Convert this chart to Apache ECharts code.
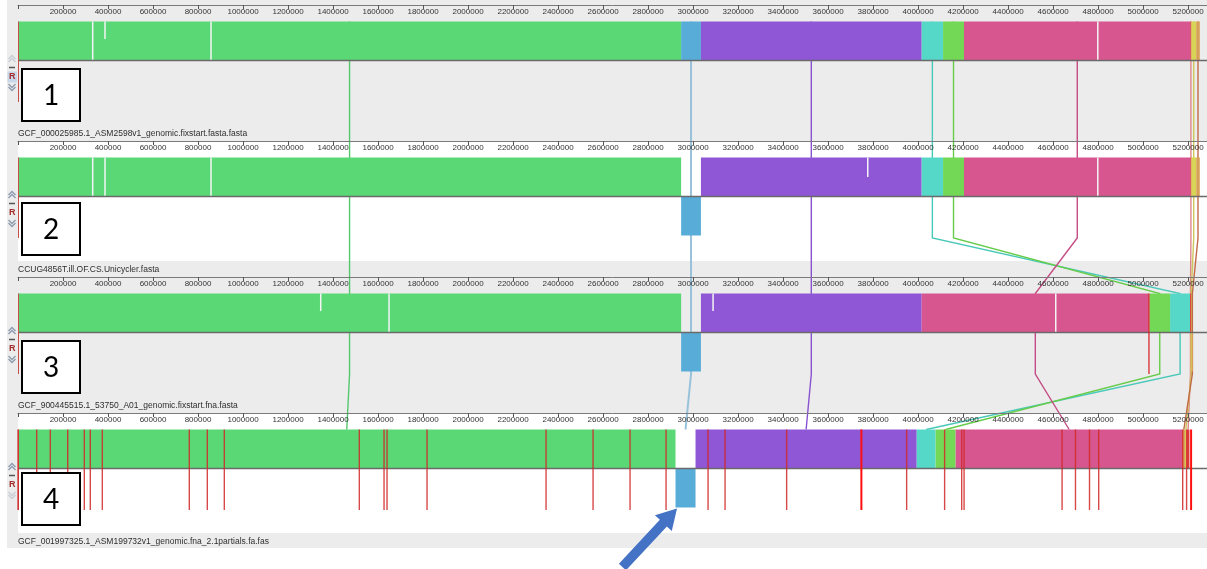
<!DOCTYPE html>
<html>
<head>
<meta charset="utf-8">
<script src="https://cdn.jsdelivr.net/npm/echarts/dist/echarts.min.js"></script>
<style>
  html, body { margin: 0; padding: 0; background: #ffffff; }
  #chart { width: 1207px; height: 569px; }
</style>
</head>
<body>
<div id="chart"></div>
<script>
// ---- genomes shown as stacked tracks ----
const genomeNames = [
  'GCF_000025985.1_ASM2598v1_genomic.fixstart.fasta.fasta',
  'CCUG4856T.ill.OF.CS.Unicycler.fasta',
  'GCF_900445515.1_53750_A01_genomic.fixstart.fna.fasta',
  'GCF_001997325.1_ASM199732v1_genomic.fna_2.1partials.fa.fas'
];
const panelNumbers = ['1', '2', '3', '4'];

// ---- locally collinear blocks (same order in every genome array) ----
const lcbNames  = ['green', 'blue', 'purple', 'cyan', 'lime', 'pink', 'red', 'yellow', 'orange'];
const lcbColors = ['#5ad876', '#57add8', '#8f56d6', '#56d8c8', '#73d856', '#d8568f', '#e03a3a', '#d8d456', '#d8a056'];
const lcbLineColors = ['#55c86e', '#98c2da', '#8a52d0', '#48c8b8', '#66cc4a', '#c44c84', '#e08888', '#cec65a', '#c06a48'];

const g1Start  = [0, 2947000, 3035000, 4016000, 4111000, 4204000, 5211000, 5214000, 5236000];
const g1End    = [2947000, 3035000, 4016000, 4111000, 4204000, 5211000, 5214000, 5236000, 5252000];
const g1Strand = [1, 1, 1, 1, 1, 1, 1, 1, 1];

const g2Start  = [0, 2947000, 3035000, 4016000, 4111000, 4204000, 5211000, 5214000, 5236000];
const g2End    = [2947000, 3035000, 4016000, 4111000, 4204000, 5211000, 5214000, 5236000, 5252000];
const g2Strand = [1, -1, 1, 1, 1, 1, 1, 1, 1];

const g3Start  = [0, 2947000, 3035000, 5120000, 5028000, 4016000, 5209000, 5212000, 5216000];
const g3End    = [2947000, 3035000, 4016000, 5209000, 5120000, 5026000, 5212000, 5216000, 5222000];
const g3Strand = [1, -1, 1, 1, 1, 1, 1, -1, -1];

const g4Start  = [0, 2922000, 3011000, 3994000, 4078000, 4167000, 5194000, 5186000, 5176000];
const g4End    = [2922000, 3011000, 3994000, 4078000, 4167000, 5176000, 5206000, 5194000, 5186000];
const g4Strand = [1, -1, 1, 1, 1, 1, 1, 1, 1];

// ---- similarity dips inside blocks: position (bp) and depth (share of block height) ----
const g1GapPos = [332000, 386700, 857800, 4798700];
const g1GapDepth = [1, 0.45, 1, 1];
const g2GapPos = [332000, 386700, 857800, 3776400, 4798700];
const g2GapDepth = [1, 1, 1, 0.5, 1];
const g3GapPos = [1345300, 1648900, 3088900, 4611900];
const g3GapDepth = [0.45, 1, 0.45, 1];
const g4GapPos = [];
const g4GapDepth = [];

// ---- contig boundaries (bp) ----
const g3Contigs = [5026000];
const g4Contigs = [0, 83100, 143600, 220900, 294700, 321300, 374700, 761300, 841300, 916900,
  1516900, 1626700, 1640000, 1817800, 2346700, 2555600, 2720000, 2880000, 3066700, 3142200,
  3416000, 3949300, 4118000, 4193800, 4204400, 4640000, 4699500, 4761800, 4802700, 5176000, 5193300];
const g4ContigsStrong = [3748000, 5213300];

// ---- ruler ----
const tickStep = 200000;
const axisMax = 5284000;

// ---- layout ----
const PANEL_TOP = [5, 141, 277, 413];
const BOX_TOP = [69, 203, 341, 473];
const BLOCK_H = 39;
const TRACK_TOP = 55.5;   // ruler line sits this far above the centre line
const TRACK_BOTTOM = -42;

const genomes = [
  { start: g1Start, end: g1End, strand: g1Strand, gapPos: g1GapPos, gapDepth: g1GapDepth },
  { start: g2Start, end: g2End, strand: g2Strand, gapPos: g2GapPos, gapDepth: g2GapDepth },
  { start: g3Start, end: g3End, strand: g3Strand, gapPos: g3GapPos, gapDepth: g3GapDepth },
  { start: g4Start, end: g4End, strand: g4Strand, gapPos: g4GapPos, gapDepth: g4GapDepth }
];
const midOf = (gi, k) => (genomes[gi].start[k] + genomes[gi].end[k]) / 2;

const chart = echarts.init(document.getElementById('chart'), null, { renderer: 'canvas' });

const grids = PANEL_TOP.map(o => ({ left: 18, right: 0, top: o, height: TRACK_TOP - TRACK_BOTTOM }));
grids.push({ left: 18, right: 0, top: 0, height: 569 });

const xAxes = PANEL_TOP.map((o, i) => ({
  type: 'value', gridIndex: i, position: 'top', min: 0, max: axisMax, interval: tickStep, z: 6,
  axisLine: { show: true, onZero: false, lineStyle: { color: '#7a7a7a', width: 1 } },
  axisTick: { show: true, inside: true, length: 4, lineStyle: { color: '#555' } },
  axisLabel: {
    inside: true, margin: 3, fontSize: 8, color: '#333', fontFamily: 'Liberation Sans',
    formatter: v => (v === 0 ? '' : String(v))
  },
  splitLine: { show: false }
}));
xAxes.push({ type: 'value', gridIndex: 4, min: 0, max: axisMax, show: false });

const yAxes = PANEL_TOP.map((o, i) => ({ type: 'value', gridIndex: i, min: TRACK_BOTTOM, max: TRACK_TOP, show: false }));
yAxes.push({ type: 'value', gridIndex: 4, min: 0, max: 569, inverse: true, show: false });

const series = [];

// connection lines between the same block in successive genomes
series.push({
  type: 'custom', xAxisIndex: 4, yAxisIndex: 4, z: 3, silent: true,
  data: lcbNames.map((n, k) => [k]),
  renderItem(params, api) {
    const k = api.value(0);
    const pts = [];
    for (let gi = 0; gi < 4; gi++) {
      const o = PANEL_TOP[gi];
      pts.push(api.coord([midOf(gi, k), o + TRACK_TOP - BLOCK_H]));
      if (gi < 3) pts.push(api.coord([midOf(gi, k), o + TRACK_TOP + 41.5]));
    }
    return {
      type: 'polyline', shape: { points: pts },
      style: { stroke: lcbLineColors[k], lineWidth: k === 1 ? 2 : 1.4, fill: null }
    };
  }
});

genomes.forEach((g, gi) => {
  // blocks
  series.push({
    type: 'custom', xAxisIndex: gi, yAxisIndex: gi, z: 4, silent: true,
    data: g.start.map((s, k) => [s, g.end[k], g.strand[k], k]),
    renderItem(params, api) {
      const s = api.value(0), e = api.value(1), st = api.value(2), k = api.value(3);
      const a = api.coord([s, st > 0 ? BLOCK_H : 0]);
      const b = api.coord([e, st > 0 ? 0 : -BLOCK_H]);
      return {
        type: 'rect',
        shape: { x: a[0], y: a[1], width: Math.max(b[0] - a[0], 1), height: b[1] - a[1] },
        style: { fill: lcbColors[k] }
      };
    }
  });
  // similarity dips
  series.push({
    type: 'custom', xAxisIndex: gi, yAxisIndex: gi, z: 5, silent: true,
    data: g.gapPos.map((p, j) => [p, g.gapDepth[j]]),
    renderItem(params, api) {
      const a = api.coord([api.value(0), BLOCK_H]);
      const b = api.coord([api.value(0), BLOCK_H - api.value(1) * BLOCK_H]);
      return { type: 'rect', shape: { x: a[0] - 0.75, y: a[1], width: 1.5, height: b[1] - a[1] }, style: { fill: '#f4f4f4' } };
    }
  });
  // centre line and reference marker
  series.push({
    type: 'custom', xAxisIndex: gi, yAxisIndex: gi, z: 6, silent: true,
    data: [[0]],
    renderItem(params, api) {
      const cs = params.coordSys;
      const c = api.coord([0, 0]);
      const t = api.coord([0, BLOCK_H]);
      const b = api.coord([0, TRACK_BOTTOM + 0.5]);
      return {
        type: 'group', children: [
          { type: 'line', shape: { x1: cs.x, y1: c[1], x2: cs.x + cs.width, y2: c[1] }, style: { stroke: '#6a6a6a', lineWidth: 1.5 } },
          { type: 'line', shape: { x1: t[0] + 0.5, y1: t[1], x2: b[0] + 0.5, y2: b[1] }, style: { stroke: '#c8504a', lineWidth: 1 } }
        ]
      };
    }
  });
});

// contig boundaries
function contigSeries(gi, list, color, width) {
  return {
    type: 'custom', xAxisIndex: gi, yAxisIndex: gi, z: 7, silent: true,
    data: list.map(p => [p]),
    renderItem(params, api) {
      const a = api.coord([api.value(0), BLOCK_H]);
      const b = api.coord([api.value(0), TRACK_BOTTOM + 0.5]);
      return { type: 'line', shape: { x1: a[0], y1: a[1], x2: b[0], y2: b[1] }, style: { stroke: color, lineWidth: width } };
    }
  };
}
series.push(contigSeries(2, g3Contigs, 'rgba(215,40,40,0.9)', 1.4));
series.push(contigSeries(3, g4Contigs, 'rgba(210,40,40,0.85)', 1.4));
series.push(contigSeries(3, g4ContigsStrong, '#ff1010', 2));

chart.setOption({
  animation: false,
  grid: grids,
  xAxis: xAxes,
  yAxis: yAxes,
  series: series
});

// ---- frames, controls, captions, arrow ----
const elements = [];
PANEL_TOP.forEach((o, i) => {
  const top = i === 0 ? 0 : o - 1;
  elements.push({ type: 'rect', z: 0, silent: true, shape: { x: 7, y: top, width: 1200, height: o + 135 - top }, style: { fill: '#ececec' } });
  if (i % 2 === 1) {
    elements.push({ type: 'rect', z: 0, silent: true, shape: { x: 18, y: o, width: 1189, height: 120 }, style: { fill: '#ffffff' } });
  }
  // track controls
  const upCol = i === 0 ? '#c9ced6' : '#8e9cb0';
  const dnCol = i === 3 ? '#c9ced6' : '#8e9cb0';
  elements.push({ type: 'polyline', z: 100, silent: true, shape: { points: [[8.5, o + 54], [12, o + 50.5], [15.5, o + 54]] }, style: { stroke: upCol, lineWidth: 1.4, fill: null } });
  elements.push({ type: 'polyline', z: 100, silent: true, shape: { points: [[8.5, o + 57], [12, o + 53.5], [15.5, o + 57]] }, style: { stroke: upCol, lineWidth: 1.4, fill: null } });
  elements.push({ type: 'line', z: 100, silent: true, shape: { x1: 9, y1: o + 62.5, x2: 15, y2: o + 62.5 }, style: { stroke: '#555', lineWidth: 1.5 } });
  if (i === 0) {
    elements.push({ type: 'rect', z: 99, silent: true, shape: { x: 7.5, y: o + 66.5, width: 9.5, height: 11 }, style: { fill: '#c8d6ea' } });
  }
  elements.push({ type: 'text', z: 100, silent: true, style: { x: 12.2, y: o + 72, text: 'R', fill: '#a32a2a', font: 'bold 9px "Liberation Sans"', textAlign: 'center', textVerticalAlign: 'middle' } });
  elements.push({ type: 'polyline', z: 100, silent: true, shape: { points: [[8.5, o + 79], [12, o + 82.5], [15.5, o + 79]] }, style: { stroke: dnCol, lineWidth: 1.4, fill: null } });
  elements.push({ type: 'polyline', z: 100, silent: true, shape: { points: [[8.5, o + 82], [12, o + 85.5], [15.5, o + 82]] }, style: { stroke: dnCol, lineWidth: 1.4, fill: null } });
  // genome caption
  elements.push({ type: 'text', z: 100, silent: true, style: { x: 18, y: o + 129, text: genomeNames[i], fill: '#2e2e2e', font: '8.5px "Liberation Sans"', textVerticalAlign: 'middle' } });
  // panel number box
  elements.push({ type: 'rect', z: 100, silent: true, shape: { x: 22, y: BOX_TOP[i], width: 58, height: 52 }, style: { fill: '#ffffff', stroke: '#000000', lineWidth: 2 } });
  elements.push({ type: 'text', z: 101, silent: true, style: { x: 51, y: BOX_TOP[i] + 27, text: panelNumbers[i], fill: '#000', font: '28px Lato', textAlign: 'center', textVerticalAlign: 'middle' } });
});

// arrow pointing at the inverted blue block of the last genome
const tip0 = chart.convertToPixel({ gridIndex: 3 }, [g4Start[1], -BLOCK_H]);
const tip = [tip0[0] + 1.5, tip0[1] + 1];
const ux = 0.682, uy = -0.732, nx = 0.732, ny = 0.682;
const L = 80, headL = 20, shaftW = 4.8, headW = 11.5;
const tail = [tip[0] - ux * L, tip[1] - uy * L];
const neck = [tip[0] - ux * headL, tip[1] - uy * headL];
elements.push({
  type: 'polygon', z: 100, silent: true,
  shape: {
    points: [
      [tail[0] + nx * shaftW, tail[1] + ny * shaftW],
      [neck[0] + nx * shaftW, neck[1] + ny * shaftW],
      [neck[0] + nx * headW, neck[1] + ny * headW],
      tip,
      [neck[0] - nx * headW, neck[1] - ny * headW],
      [neck[0] - nx * shaftW, neck[1] - ny * shaftW],
      [tail[0] - nx * shaftW, tail[1] - ny * shaftW]
    ]
  },
  style: { fill: '#4472c4' }
});

chart.setOption({ graphic: { elements: elements } });
</script>
</body>
</html>
